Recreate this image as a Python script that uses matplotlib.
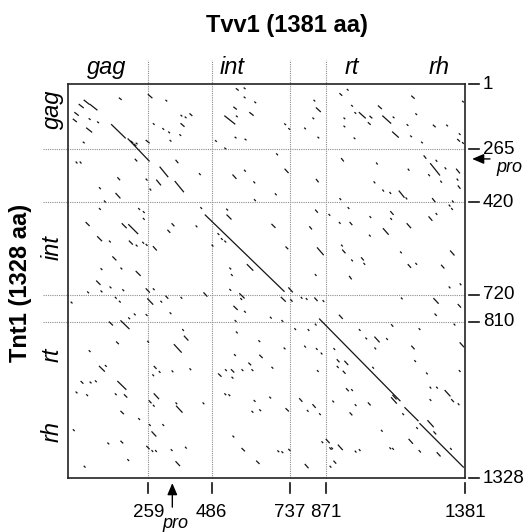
import numpy as np
import matplotlib
matplotlib.use("Agg")
import matplotlib.pyplot as plt
from matplotlib.collections import LineCollection

plt.rcParams['font.family'] = ['Liberation Sans', 'DejaVu Sans']

# sequence lengths and domain borders (residue numbers)
len_x, len_y = 1381, 1328
x_marks = [259, 486, 737, 871]
y_marks = [265, 420, 720, 810]
x_ticks = [259, 486, 737, 871, 1381]
y_ticks = [1, 265, 420, 720, 810, 1328]
pro_x = 345      # pro site on Tvv1
pro_y = 294      # pro site on Tnt1
domains = ['gag', 'int', 'rt', 'rh']

# long matching stretches: x0, x1, y0, y1
diag_x0 = [141, 194, 463, 848, 1161, 1216]
diag_x1 = [185, 262, 718, 1143, 1209, 1375]
diag_y0 = [166, 224, 462, 801, 1095, 1148]
diag_y1 = [220, 300, 708, 1072, 1138, 1292]

# short hits (x, y, length), grouped by region
hits_nw = [(37, 84, 13), (53, 67, 16), (72, 84, 22), (23, 117, 11), (18, 144, 10), (61, 180, 16),
           (69, 142, 3), (96, 155, 3), (166, 58, 6), (203, 233, 6), (213, 245, 6), (220, 241, 3),
           (50, 237, 3), (259, 44, 13), (322, 67, 3), (376, 128, 3), (391, 135, 3), (408, 122, 7),
           (376, 162, 11), (311, 182, 3), (332, 196, 3), (372, 207, 3), (337, 230, 3), (277, 162, 3),
           (252, 230, 10), (301, 318, 28), (355, 360, 30), (289, 356, 14), (358, 298, 7), (217, 295, 5),
           (161, 349, 6), (102, 378, 3), (155, 395, 13), (252, 353, 3), (265, 382, 3), (27, 303, 3),
           (40, 303, 3), (118, 417, 3), (102, 441, 3), (228, 441, 3), (243, 451, 3), (243, 473, 3),
           (59, 486, 10), (175, 490, 13), (196, 493, 29), (344, 490, 7), (329, 511, 7), (430, 497, 3),
           (96, 532, 13), (134, 546, 3), (198, 546, 10), (220, 559, 3), (241, 550, 3), (252, 557, 3),
           (277, 564, 11), (145, 597, 10), (171, 633, 3), (107, 635, 3), (220, 644, 13)]
hits_n = [(565, 20, 6), (590, 17, 3), (590, 54, 3), (557, 95, 8), (528, 131, 32), (608, 117, 11),
          (565, 131, 3), (624, 74, 3), (720, 163, 3), (733, 182, 3), (561, 217, 3), (593, 225, 3),
          (498, 231, 3), (528, 261, 3), (827, 67, 3), (836, 98, 15), (823, 139, 3), (792, 180, 3),
          (842, 217, 3), (694, 279, 3), (721, 324, 10), (554, 341, 10), (591, 327, 3), (621, 361, 3),
          (690, 396, 3), (836, 354, 7), (623, 413, 3), (442, 337, 3), (447, 438, 3), (534, 443, 3),
          (535, 462, 13), (679, 492, 10), (811, 500, 7), (833, 446, 7), (883, 460, 3), (724, 565, 6),
          (840, 568, 22), (832, 654, 3), (544, 633, 3), (600, 622, 18), (549, 654, 3), (506, 522, 3),
          (517, 538, 3), (528, 546, 3), (487, 559, 3)]
hits_ne = [(923, 40, 7), (950, 23, 3), (966, 88, 3), (978, 117, 3), (994, 117, 22), (1033, 132, 7),
           (1027, 158, 7), (1064, 90, 11), (1080, 131, 29), (1118, 135, 3), (938, 139, 3), (938, 172, 3),
           (975, 220, 3), (1116, 196, 21), (1182, 212, 3), (1186, 50, 9), (1201, 122, 3), (1169, 166, 3),
           (1222, 237, 3), (1265, 168, 7), (1314, 168, 3), (1372, 71, 3), (1360, 203, 3), (1354, 226, 7),
           (1372, 239, 3), (929, 293, 7), (1057, 306, 3), (1173, 324, 3), (1231, 285, 7), (1255, 308, 33),
           (1275, 298, 3), (1248, 340, 3), (1308, 320, 3), (1350, 324, 11), (1352, 353, 3), (1356, 373, 7),
           (1292, 359, 3), (1048, 361, 3), (1080, 385, 3), (1106, 392, 3), (1140, 388, 18), (1165, 408, 3),
           (1262, 410, 9), (1335, 417, 3), (1323, 430, 3), (1332, 441, 3), (923, 410, 3), (953, 438, 3),
           (960, 486, 7), (921, 486, 3), (1033, 467, 3), (1109, 451, 9), (1109, 473, 3), (1169, 490, 13),
           (1249, 468, 11), (1275, 457, 3), (1082, 506, 18), (1031, 527, 3), (929, 559, 3), (933, 575, 9),
           (1002, 600, 7), (1011, 618, 3), (966, 607, 3), (1145, 581, 3), (1173, 622, 9), (1201, 618, 3),
           (1328, 578, 13), (1295, 624, 9), (958, 660, 3)]
hits_sw = [(93, 675, 11), (136, 694, 3), (177, 703, 3), (252, 700, 11), (277, 700, 3), (257, 733, 18),
           (64, 710, 3), (107, 707, 3), (11, 744, 3), (153, 728, 3), (166, 741, 3), (304, 741, 3),
           (322, 724, 7), (376, 728, 3), (337, 780, 3), (214, 784, 3), (196, 797, 3), (252, 786, 3),
           (134, 811, 10), (171, 807, 26), (382, 836, 3), (388, 858, 13), (157, 877, 6), (257, 875, 3),
           (352, 886, 25), (69, 906, 3), (102, 958, 16), (121, 955, 3), (280, 958, 7), (298, 975, 3),
           (275, 986, 3), (344, 973, 3), (408, 966, 3), (43, 1008, 6), (72, 1010, 3), (89, 1006, 3),
           (161, 1008, 26), (27, 1043, 3), (61, 1052, 3), (153, 1049, 3), (182, 1052, 8), (280, 1049, 16),
           (262, 1072, 7), (277, 1087, 3), (358, 1079, 3), (360, 1090, 20), (171, 1107, 8), (228, 1131, 3),
           (311, 1151, 3), (263, 1151, 3), (18, 1168, 3), (272, 1175, 14), (129, 1212, 3), (171, 1206, 6),
           (254, 1223, 8), (272, 1237, 3), (285, 1237, 3), (341, 1234, 3), (392, 1226, 3), (358, 1274, 13),
           (53, 1289, 3), (193, 1267, 3)]
hits_s = [(733, 697, 13), (458, 713, 11), (544, 702, 3), (576, 716, 14), (579, 732, 3), (709, 728, 13),
          (740, 736, 5), (779, 728, 3), (798, 732, 3), (830, 730, 9), (861, 739, 3), (557, 758, 11),
          (591, 775, 3), (674, 795, 3), (561, 806, 3), (711, 806, 3), (755, 833, 3), (805, 836, 3),
          (832, 818, 3), (565, 844, 3), (637, 873, 3), (718, 897, 3), (792, 891, 3), (836, 899, 3),
          (854, 914, 3), (559, 919, 3), (640, 921, 8), (605, 947, 6), (679, 961, 3), (508, 983, 8),
          (530, 969, 3), (549, 969, 8), (583, 969, 3), (615, 969, 3), (551, 994, 3), (840, 972, 3),
          (528, 1049, 3), (541, 1052, 3), (455, 1079, 3), (622, 1071, 3), (672, 1060, 3), (615, 1107, 3),
          (640, 1102, 3), (724, 1098, 8), (773, 1065, 9), (823, 1085, 9), (802, 1104, 3), (848, 1115, 3),
          (554, 1189, 3), (583, 1230, 8), (698, 1238, 3), (711, 1241, 3), (733, 1233, 4), (873, 1200, 11),
          (857, 1208, 3), (886, 1228, 5), (630, 1272, 8), (794, 1283, 11)]
hits_se = [(1148, 730, 3), (1267, 732, 16), (1323, 694, 3), (1363, 684, 3), (1356, 752, 9), (1271, 784, 5),
           (921, 788, 11), (962, 665, 3), (1112, 820, 5), (1213, 833, 3), (1341, 818, 3), (994, 836, 3),
           (1018, 864, 3), (1051, 861, 16), (1094, 866, 3), (1051, 897, 3), (1186, 891, 9), (1363, 880, 13),
           (901, 899, 3), (913, 936, 7), (941, 941, 11), (913, 958, 4), (935, 974, 7), (1043, 961, 3),
           (1197, 939, 3), (1240, 980, 3), (1360, 972, 3), (947, 1032, 7), (966, 1035, 3), (897, 1073, 3),
           (979, 1085, 3), (1027, 1079, 7), (960, 1112, 7), (1153, 1115, 3), (1253, 1027, 3), (1277, 1027, 3),
           (1308, 1038, 18), (1332, 1068, 7), (1356, 1082, 3), (1253, 1068, 3), (1204, 1161, 3), (1075, 1170, 3),
           (1176, 1200, 13), (1267, 1175, 7), (893, 1228, 3), (917, 1219, 15), (979, 1239, 3), (994, 1234, 3),
           (1106, 1228, 3), (1116, 1230, 3), (1213, 1237, 5), (1279, 1244, 11), (1328, 1230, 3), (901, 1272, 7),
           (887, 1289, 3), (1112, 1062, 18), (1117, 1054, 12), (1245, 1138, 20)]

# the published axes are not evenly spaced: place the labelled borders where the figure has them
x_knot_pos = [0, 0.2023, 0.3620, 0.5592, 0.6491, 1.0]
y_knot_pos = [0, 0.165, 0.2995, 0.5355, 0.6033, 1.0]


def piecewise(res, pos):
    res = np.asarray(res, float)
    pos = np.asarray(pos, float)
    s0 = (pos[1] - pos[0]) / (res[1] - res[0])
    s1 = (pos[-1] - pos[-2]) / (res[-1] - res[-2])
    r = np.r_[res[0] - 1e5, res, res[-1] + 1e5]
    p = np.r_[pos[0] - 1e5 * s0, pos, pos[-1] + 1e5 * s1]
    return (lambda v: np.interp(v, r, p)), (lambda v: np.interp(v, p, r))


fig = plt.figure(figsize=(5.25, 5.32), dpi=100)
ax = fig.add_axes([0.1295, 0.1015, 0.7562, 0.7406])
ax.set_xscale('function', functions=piecewise([1] + x_ticks, x_knot_pos))
ax.set_yscale('function', functions=piecewise(y_ticks, y_knot_pos))
ax.set_xlim(1, len_x)
ax.set_ylim(len_y, 1)
ax.set_xticks([])
ax.set_yticks([])
ax.tick_params(which='both', length=0)
for s in ax.spines.values():
    s.set_linewidth(1.2)
    s.set_color('#222222')

xtr = ax.get_xaxis_transform()
ytr = ax.get_yaxis_transform()
grid_kw = dict(color='#8c8c8c', lw=0.8, ls=(0, (1, 1)), clip_on=False, zorder=1)
for v in x_marks:
    ax.plot([v, v], [0, 1.061], transform=xtr, **grid_kw)
for v in y_marks:
    ax.plot([-0.063, 1], [v, v], transform=ytr, **grid_kw)

segs = []
for x, y, n in hits_nw + hits_n + hits_ne + hits_sw + hits_s + hits_se:
    segs.append([(x, y), (x + n, y + n)])
for x0, x1, y0, y1 in zip(diag_x0, diag_x1, diag_y0, diag_y1):
    segs.append([(x0, y0), (x1, y1)])
ax.add_collection(LineCollection(segs, colors='#141414', linewidths=0.9,
                                 capstyle='projecting', zorder=3))

# bottom ticks and labels
for v in x_ticks:
    ax.plot([v, v], [-0.0127, -0.038], transform=xtr, color='#111111', lw=1.2, clip_on=False)
    ax.text(v, -0.088, str(v), transform=xtr, ha='center', va='center', fontsize=13.5)
# right ticks and labels
for v in y_ticks:
    ax.plot([1.010, 1.035], [v, v], transform=ytr, color='#111111', lw=1.2, clip_on=False)
    ax.text(1.045, v, str(v), transform=ytr, ha='left', va='center', fontsize=13.5)

arrow_kw = dict(arrowstyle='-|>,head_length=0.7,head_width=0.3', color='k', lw=1.0,
                shrinkA=0, shrinkB=0)
ax.annotate('', xy=(pro_x, -0.013), xytext=(pro_x, -0.074), xycoords=xtr, textcoords=xtr,
            arrowprops=arrow_kw, annotation_clip=False)
ax.text(pro_x + 10, -0.094, 'pro', transform=xtr, ha='center', va='top', fontsize=13, style='italic')
ax.annotate('', xy=(1.018, pro_y), xytext=(1.063, pro_y), xycoords=ytr, textcoords=ytr,
            arrowprops=arrow_kw, annotation_clip=False)
ax.text(1.078, pro_y, 'pro', transform=ytr, ha='left', va='top', fontsize=13, style='italic')

# domain names
top_pos = [0.098, 0.413, 0.715, 0.934]
left_pos = [0.937, 0.585, 0.312, 0.117]
for name, xp, yp in zip(domains, top_pos, left_pos):
    ax.text(xp, 1.041, name, transform=ax.transAxes, ha='center', va='center',
            fontsize=17, style='italic')
    ax.text(-0.040, yp, name, transform=ax.transAxes, ha='center', va='center',
            fontsize=17, style='italic', rotation=90)

fig.text(0.547, 0.953, 'Tvv1 (1381 aa)', ha='center', va='center', fontsize=17, fontweight='bold')
fig.text(0.040, 0.468, 'Tnt1 (1328 aa)', ha='center', va='center', fontsize=17,
         fontweight='bold', rotation=90)

fig.savefig('out.png', dpi=100)
